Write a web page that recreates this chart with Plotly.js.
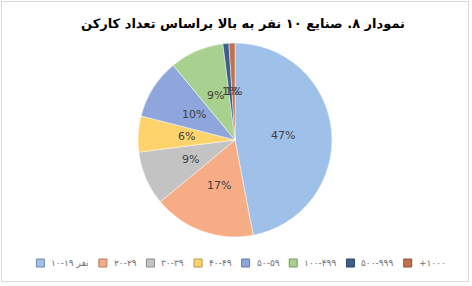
<!DOCTYPE html>
<html><head><meta charset="utf-8">
<script src="https://cdn.plot.ly/plotly-3.0.1.min.js"></script>
<style>
html,body{margin:0;padding:0;background:#fff;}
#chart{width:472px;height:286px;}
#frame{position:absolute;left:1px;top:1px;width:466px;height:279px;border:1px solid #d9d9d9;pointer-events:none;}
</style></head>
<body>
<div id="chart"></div>
<div id="frame"></div>
<script>
const categories = ["۱۰-۱۹ نفر", "۲۰-۲۹", "۳۰-۳۹", "۴۰-۴۹", "۵۰-۵۹", "۱۰۰-۴۹۹", "۵۰۰-۹۹۹", "+۱۰۰۰"];
const shares = [47, 17, 9, 6, 10, 9, 1, 1];
const sliceColors = ["#9fc0e8", "#f6ad85", "#c3c3c3", "#fed36b", "#8fa6dc", "#a8d08e", "#3c5f8c", "#c0714f"];
const titleText = "نمودار ۸. صنایع ۱۰ نفر به بالا براساس تعداد کارکن";

const W = 472, H = 286;
const FONT = "DejaVu Sans, sans-serif";
const pieDomain = {x: [0.2924, 0.7034], y: [0.1713, 0.8497]};

function darken(hex, f) {
  const n = parseInt(hex.slice(1), 16);
  const r = Math.round(((n >> 16) & 255) * f), g = Math.round(((n >> 8) & 255) * f), b = Math.round((n & 255) * f);
  return "rgb(" + r + "," + g + "," + b + ")";
}

// percentage labels placed at half radius along each slice's mid angle
const cx = (pieDomain.x[0] + pieDomain.x[1]) / 2;
const cy = (pieDomain.y[0] + pieDomain.y[1]) / 2;
const rPx = Math.min((pieDomain.x[1] - pieDomain.x[0]) * W, (pieDomain.y[1] - pieDomain.y[0]) * H) / 2;
const total = shares.reduce((a, b) => a + b, 0);
const annotations = [];
let cum = 0;
shares.forEach((v) => {
  const mid = (cum + v / 2) / total * 2 * Math.PI;
  cum += v;
  const k = 0.5;
  annotations.push({
    xref: "paper", yref: "paper",
    x: cx + k * rPx * Math.sin(mid) / W,
    y: cy + k * rPx * Math.cos(mid) / H,
    text: v + "%", showarrow: false,
    xanchor: "center", yanchor: "middle",
    font: {family: FONT, size: 11, color: "#404040"}
  });
});

// custom legend: one row, measured text widths
const legendFontSize = 9;
const ctx = document.createElement("canvas").getContext("2d");
ctx.font = legendFontSize + "px 'DejaVu Sans'";
const box = 8, boxGap = 5, itemGap = 12;
const widths = categories.map(c => ctx.measureText(c).width);
const totalW = widths.reduce((a, w) => a + box + boxGap + w + itemGap, 0) - itemGap;
let lx = W / 2 - totalW / 2 + 4;
const ly = 263;
const shapes = [];
categories.forEach((c, i) => {
  shapes.push({type: "rect", xref: "paper", yref: "paper",
    x0: lx / W, x1: (lx + box) / W, y0: 1 - (ly + box / 2) / H, y1: 1 - (ly - box / 2) / H,
    fillcolor: sliceColors[i], line: {color: darken(sliceColors[i], 0.72), width: 1}});
  annotations.push({xref: "paper", yref: "paper", x: (lx + box + boxGap) / W, y: 1 - ly / H,
    xanchor: "left", yanchor: "middle", showarrow: false, text: c,
    font: {family: FONT, size: legendFontSize, color: "#6f6f6f"}});
  lx += box + boxGap + widths[i] + itemGap;
});

const data = [{
  type: "pie",
  labels: categories,
  values: shares,
  sort: false,
  direction: "clockwise",
  rotation: 0,
  marker: {colors: sliceColors, line: {color: "rgba(255,255,255,0.6)", width: 0.8}},
  textinfo: "none",
  hoverinfo: "none",
  domain: pieDomain
}];

const layout = {
  width: W, height: H,
  margin: {l: 0, r: 0, t: 0, b: 0},
  paper_bgcolor: "#ffffff",
  title: {text: "<b>" + titleText + "</b>", x: 243 / W, xanchor: "center", y: 1 - 23 / H, yanchor: "middle",
          font: {family: FONT, size: 13, color: "#000000"}},
  showlegend: false,
  annotations: annotations,
  shapes: shapes
};

Plotly.newPlot("chart", data, layout, {displayModeBar: false, staticPlot: true});
</script>
</body></html>
